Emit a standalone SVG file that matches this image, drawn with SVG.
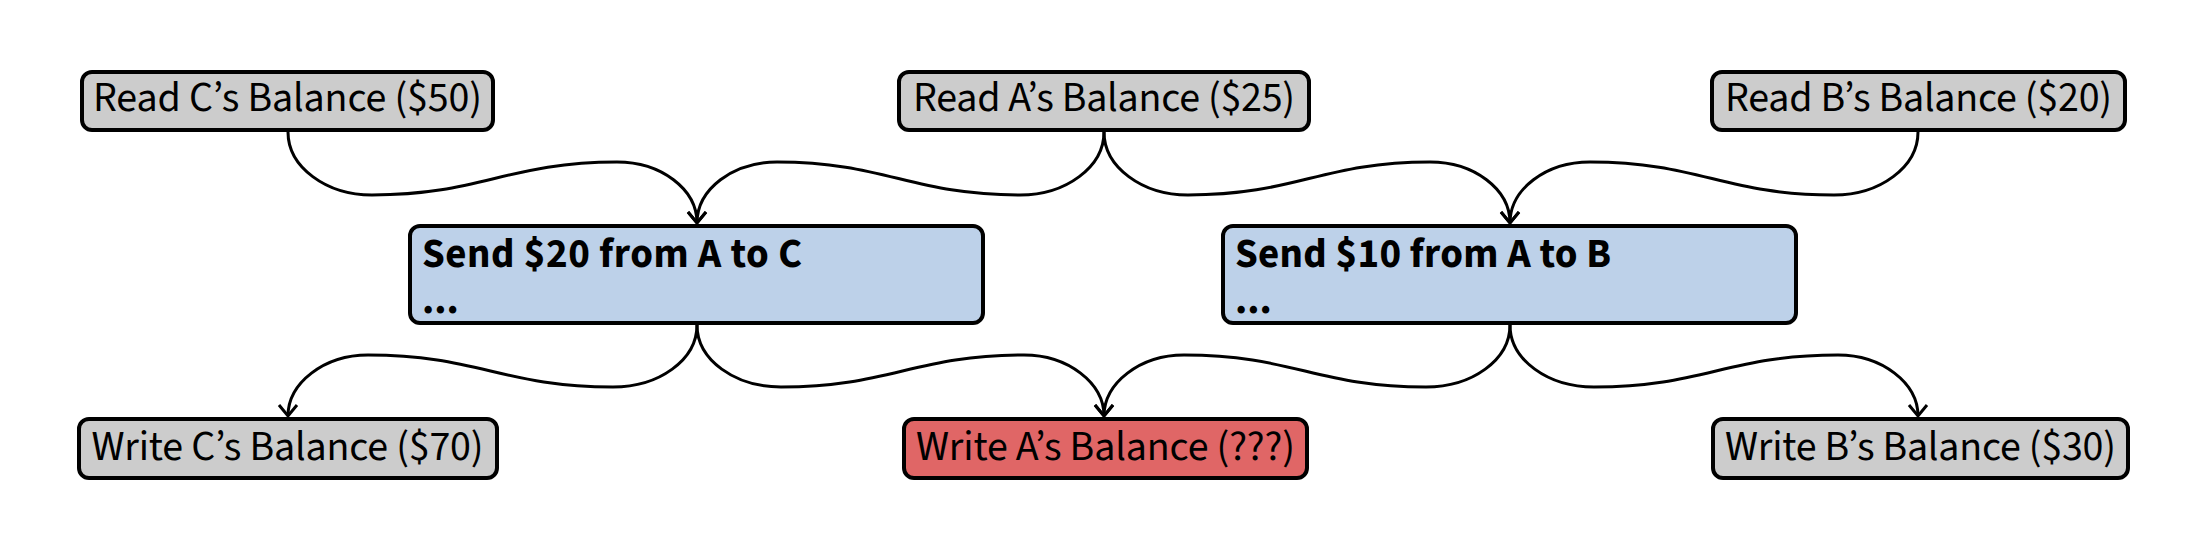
<svg xmlns="http://www.w3.org/2000/svg" width="2206" height="552" viewBox="0 0 2206 552">
<style>
.box{stroke:#000;stroke-width:4}
.grey{fill:#cccccc}
.blue{fill:#bdd1e9}
.red{fill:#e06666}
.lbl{font-family:"Source Sans Pro","Source Sans 3",Lato,"Noto Sans",sans-serif;font-size:42px;fill:#000;text-anchor:middle}
.title{font-family:"Source Sans Pro","Source Sans 3",Lato,"Noto Sans",sans-serif;font-size:41px;font-weight:bold;fill:#000}
.edge{fill:none;stroke:#000;stroke-width:3;marker-end:url(#arrow)}
</style>
<defs>
<marker id="arrow" viewBox="-14 -12 17 24" refX="0" refY="0" markerWidth="17" markerHeight="24" markerUnits="userSpaceOnUse" orient="auto">
<path d="M-11,-9 L0,0 L-11,9" fill="none" stroke="#000" stroke-width="3" stroke-linejoin="miter"/>
</marker>
</defs>
<rect width="2206" height="552" fill="#ffffff"/>
<g id="connectors">
<path class="edge" d="M288,132 C288,167 326,195 372,195 C482,195 507,162 617,162 C661,162 697,189 697,223"/>
<path class="edge" d="M1104,132 C1104,167 1066,195 1020,195 C911,195 886,162 777,162 C733,162 697,189 697,223"/>
<path class="edge" d="M1104,132 C1104,167 1142,195 1188,195 C1297,195 1321,162 1430,162 C1474,162 1510,189 1510,223"/>
<path class="edge" d="M1918,132 C1918,167 1880,195 1834,195 C1724,195 1700,162 1590,162 C1546,162 1510,189 1510,223"/>
<path class="edge" d="M697,325 C697,360 659,387 613,387 C503,387 478,355 368,355 C324,355 288,383 288,416"/>
<path class="edge" d="M697,325 C697,360 735,387 781,387 C890,387 915,355 1024,355 C1068,355 1104,383 1104,416"/>
<path class="edge" d="M1510,325 C1510,360 1472,387 1426,387 C1317,387 1293,355 1184,355 C1140,355 1104,383 1104,416"/>
<path class="edge" d="M1510,325 C1510,360 1548,387 1594,387 C1704,387 1728,355 1838,355 C1882,355 1918,383 1918,416"/>
</g>
<g id="readC">
<rect class="box grey" x="82" y="72" width="411" height="58" rx="10"/>
<text class="lbl" x="287.5" y="111" textLength="389">Read C’s Balance ($50)</text>
</g>
<g id="readA">
<rect class="box grey" x="899" y="72" width="410" height="58" rx="10"/>
<text class="lbl" x="1104" y="111" textLength="382">Read A’s Balance ($25)</text>
</g>
<g id="readB">
<rect class="box grey" x="1712" y="72" width="413" height="58" rx="10"/>
<text class="lbl" x="1918.5" y="111" textLength="387">Read B’s Balance ($20)</text>
</g>
<g id="send20">
<rect class="box blue" x="410" y="226" width="573" height="97" rx="10"/>
<text class="title"><tspan x="422" y="267" textLength="380">Send $20 from A to C</tspan><tspan x="422" y="313">...</tspan></text>
</g>
<g id="send10">
<rect class="box blue" x="1223" y="226" width="573" height="97" rx="10"/>
<text class="title"><tspan x="1235" y="267" textLength="376">Send $10 from A to B</tspan><tspan x="1235" y="313">...</tspan></text>
</g>
<g id="writeC">
<rect class="box grey" x="79" y="419" width="418" height="59" rx="10"/>
<text class="lbl" x="287.5" y="460" textLength="392">Write C’s Balance ($70)</text>
</g>
<g id="writeA">
<rect class="box red" x="904" y="419" width="403" height="59" rx="10"/>
<text class="lbl" x="1105.5" y="460" textLength="379">Write A’s Balance (???)</text>
</g>
<g id="writeB">
<rect class="box grey" x="1713" y="419" width="415" height="59" rx="10"/>
<text class="lbl" x="1920.5" y="460" textLength="391">Write B’s Balance ($30)</text>
</g>
</svg>
